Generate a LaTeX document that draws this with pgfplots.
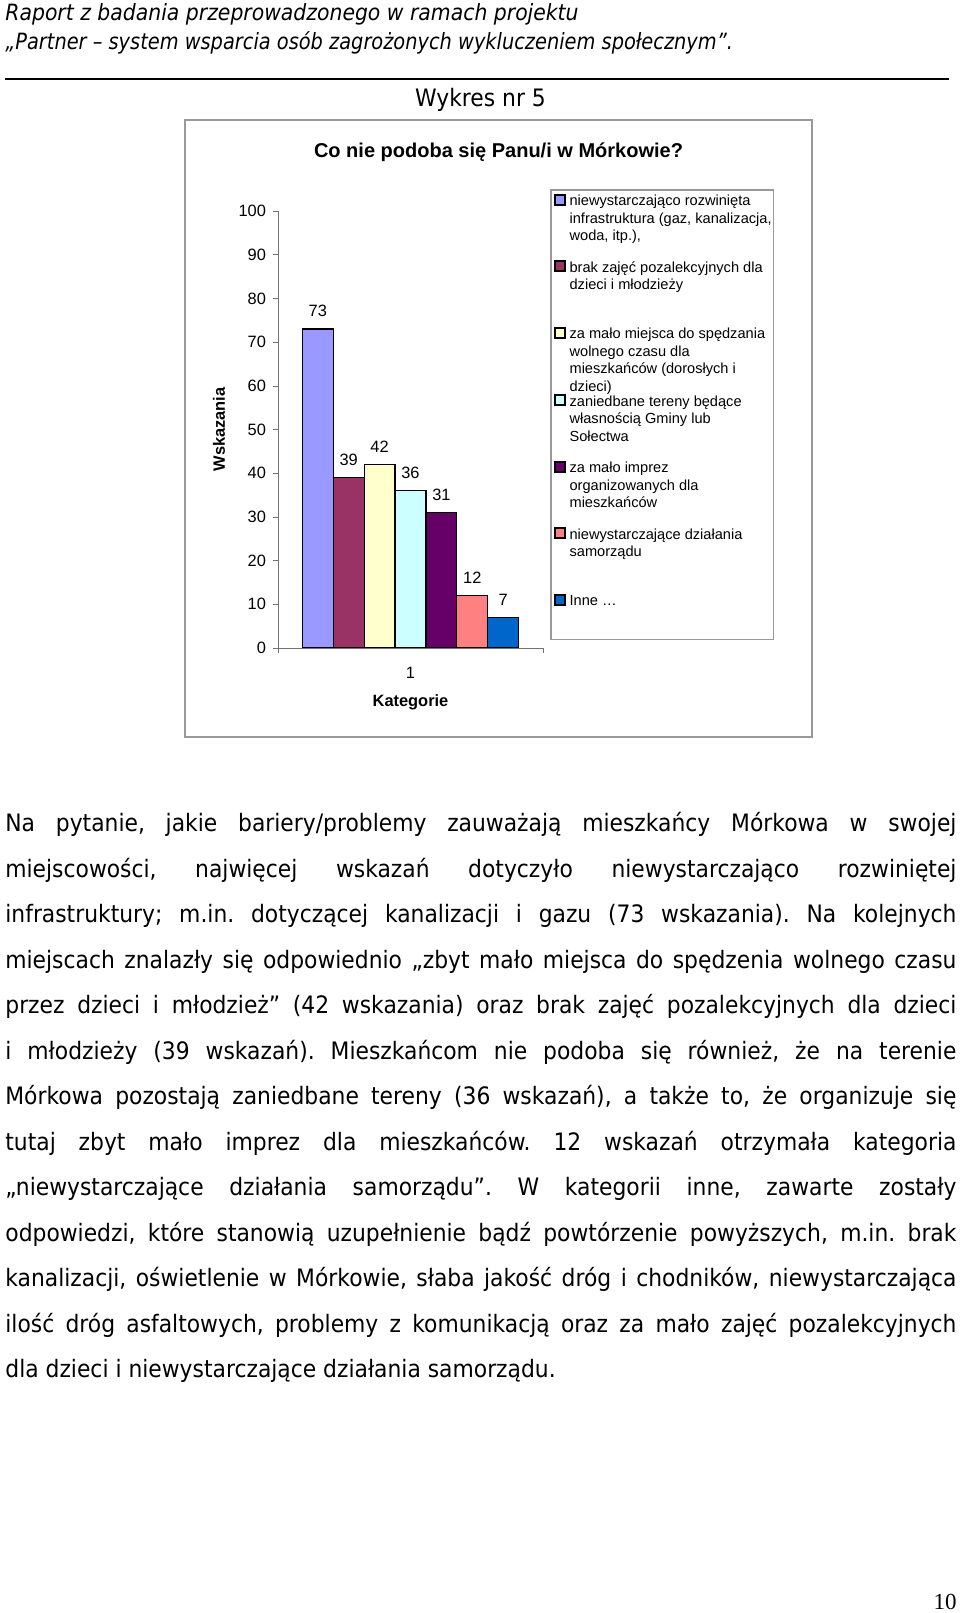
\documentclass[border=0pt]{standalone}
\usepackage{fontspec}
\usepackage{pgfplots}
\pgfplotsset{compat=1.18}
\setmainfont{Liberation Sans}
\newfontfamily\tahoma{DejaVu Sans}[FakeStretch=0.91]
\newfontfamily\arialf{Liberation Sans}
\newfontfamily\timesf{Liberation Serif}
\definecolor{c1}{HTML}{9999FF}
\definecolor{c2}{HTML}{993366}
\definecolor{c3}{HTML}{FFFFCC}
\definecolor{c4}{HTML}{CCFFFF}
\definecolor{c5}{HTML}{660066}
\definecolor{c6}{HTML}{FF8080}
\definecolor{c7}{HTML}{0066CC}
% legend text: fixed height of first line, padded depth
\newcommand\legtxt[1]{\makebox[100.5pt][l]{\parbox[t]{150pt}{\rule{0pt}{5.9pt}#1}}}
\newcommand\pad{\rule[-1.05pt]{0pt}{0pt}}
\frenchspacing
\begin{document}
\begin{tikzpicture}
\fill[white] (0,0) rectangle (480pt,806.5pt);
\useasboundingbox (0,0) rectangle (480pt,806.5pt);
\begin{scope}[x=0.5pt,y=-0.5pt,shift={(0pt,806.5pt)}]
 \node[anchor=base west, inner sep=0, font=\tahoma\itshape\fontsize{11.2}{13}\selectfont] at (5,20.5) {Raport z badania przeprowadzonego w ramach projektu};
 \node[anchor=base west, inner sep=0, font=\tahoma\itshape\fontsize{11.2}{13}\selectfont] at (5,49.4) {\scalebox{0.95}[1]{„Partner – system wsparcia osób zagrożonych wykluczeniem społecznym”.}};
 \draw[black, line width=0.6pt] (5,79) -- (949,79);
 \node[anchor=base, inner sep=0, font=\tahoma\fontsize{12}{14}\selectfont] at (480.5,106.5) {Wykres nr 5};
 \draw[gray!80, line width=0.9pt] (185,120) rectangle (812,737);
 \node[anchor=base, inner sep=0, font=\arialf\bfseries\fontsize{10}{12}\selectfont] at (498.5,158) {Co nie podoba się Panu/i w Mórkowie?};
 \node[anchor=base west, inner sep=0] at (5,832) {\parbox[t]{475.5pt}{\tahoma\fontsize{12}{22.75}\selectfont
 \makebox[\linewidth][s]{Na pytanie, jakie bariery/problemy zauważają mieszkańcy Mórkowa w swojej}\\
 \makebox[\linewidth][s]{miejscowości, najwięcej wskazań dotyczyło niewystarczająco rozwiniętej}\\
 \makebox[\linewidth][s]{infrastruktury; m.in. dotyczącej kanalizacji i gazu (73 wskazania). Na kolejnych}\\
 \makebox[\linewidth][s]{miejscach znalazły się odpowiednio „zbyt mało miejsca do spędzenia wolnego czasu}\\
 \makebox[\linewidth][s]{przez dzieci i młodzież” (42 wskazania) oraz brak zajęć pozalekcyjnych dla dzieci}\\
 \makebox[\linewidth][s]{i młodzieży (39 wskazań). Mieszkańcom nie podoba się również, że na terenie}\\
 \makebox[\linewidth][s]{Mórkowa pozostają zaniedbane tereny (36 wskazań), a także to, że organizuje się}\\
 \makebox[\linewidth][s]{tutaj zbyt mało imprez dla mieszkańców. 12 wskazań otrzymała kategoria}\\
 \makebox[\linewidth][s]{„niewystarczające działania samorządu”. W kategorii inne, zawarte zostały}\\
 \makebox[\linewidth][s]{odpowiedzi, które stanowią uzupełnienie bądź powtórzenie powyższych, m.in. brak}\\
 \makebox[\linewidth][s]{kanalizacji, oświetlenie w Mórkowie, słaba jakość dróg i chodników, niewystarczająca}\\
 \makebox[\linewidth][s]{ilość dróg asfaltowych, problemy z komunikacją oraz za mało zajęć pozalekcyjnych}\\
 dla dzieci i niewystarczające działania samorządu.}};
 \node[anchor=base east, inner sep=0, font=\timesf\fontsize{11.5}{13}\selectfont] at (957,1609.5) {10};
\end{scope}
\begin{axis}[
  at={(139pt,482.5pt)}, anchor=south west,
  scale only axis, width=132.5pt, height=218.5pt,
  xmin=0, xmax=2, ymin=0, ymax=100,
  axis lines=left, axis line style={-, draw=gray!90!black},
  ytick={0,10,...,100},
  tick align=outside, major tick length=2.5pt,
  tick style={draw=gray!90!black},
  xtick={0,2}, xticklabels={},
  extra x ticks={1}, extra x tick labels={1},
  extra x tick style={major tick length=0pt, xticklabel style={yshift=-6.3pt}},
  ticklabel style={font=\arialf\fontsize{8.2}{9}\selectfont},
  /pgf/number format/assume math mode=true,
  ylabel={Wskazania}, xlabel={Kategorie},
  label style={font=\arialf\bfseries\fontsize{8.2}{9}\selectfont},
  ylabel style={at={(axis description cs:-0.2226,0.5)}, anchor=center},
  xlabel style={at={(axis description cs:0.5,-0.1236)}, anchor=center},
  ybar=0pt, bar width=15.45pt,
  nodes near coords,
  nodes near coords style={font=\arialf\fontsize{8.2}{9}\selectfont, yshift=2.5pt, /pgf/number format/assume math mode=true},
  legend style={at={(axis description cs:1.0264,1.0503)}, anchor=north west,
    draw=gray!80, line width=0.8pt, inner xsep=1.5pt, inner ysep=2pt,
    font=\arialf\fontsize{7.3}{8.75}\selectfont,
    nodes={inner sep=0pt, text depth=}, cells={anchor=base west},
    column sep=2pt, row sep=0pt},
  sq/.style={draw=black, line width=0.6pt, legend image code/.code={\draw[##1, line width=0.9pt] (0pt,0.5pt) rectangle (5pt,5.5pt);}},
]
\addplot[sq, fill=c1] coordinates {(1,73)};
\addlegendentry{\legtxt{niewystarczająco rozwinięta\\infrastruktura (gaz, kanalizacja,\\woda, itp.),\\\pad}}
\addplot[sq, fill=c2] coordinates {(1,39)};
\addlegendentry{\legtxt{brak zajęć pozalekcyjnych dla\\dzieci i młodzieży\\\mbox{}\\\pad}}
\addplot[sq, fill=c3] coordinates {(1,42)};
\addlegendentry{\legtxt{za mało miejsca do spędzania\\wolnego czasu dla\\mieszkańców (dorosłych i\\dzieci)\pad}}
\addplot[sq, fill=c4] coordinates {(1,36)};
\addlegendentry{\legtxt{zaniedbane tereny będące\\własnością Gminy lub\\Sołectwa\\\pad}}
\addplot[sq, fill=c5] coordinates {(1,31)};
\addlegendentry{\legtxt{za mało imprez\\organizowanych dla\\mieszkańców\\\pad}}
\addplot[sq, fill=c6] coordinates {(1,12)};
\addlegendentry{\legtxt{niewystarczające działania\\samorządu\\\mbox{}\\\pad}}
\addplot[sq, fill=c7] coordinates {(1,7)};
\addlegendentry{\legtxt{Inne \ldots\rule[-15pt]{0pt}{0pt}}}
\end{axis}
\end{tikzpicture}
\end{document}
